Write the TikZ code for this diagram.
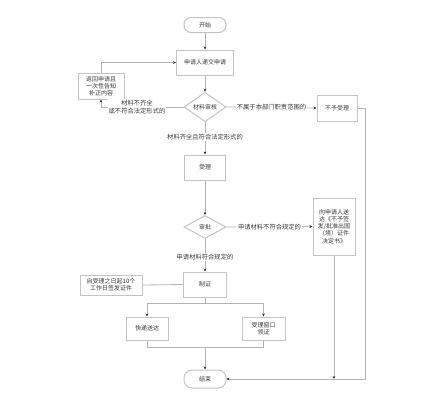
\documentclass[tikz,border=0pt]{standalone}
\usepackage{fontspec}
\newfontfamily\cjk{Noto Sans CJK SC}
\usetikzlibrary{shapes.geometric,arrows.meta,calc}
\definecolor{ln}{HTML}{B4B4B4}
\definecolor{bd}{HTML}{C4C4C4}
\definecolor{tx}{HTML}{3A3A3A}
\begin{document}
\begin{tikzpicture}[x=1pt,y=1pt,
  every node/.style={text=tx, font=\cjk\fontsize{6}{7.2}\selectfont},
  box/.style={draw=bd, line width=1pt, rectangle, inner sep=1pt, align=center},
  term/.style={draw=bd, line width=1pt, rectangle, rounded corners=7pt, inner sep=1pt},
  dia/.style={draw=bd, line width=1pt, diamond, inner sep=0pt},
  lab/.style={fill=white, inner sep=1pt, align=center, font=\cjk\fontsize{6.3}{7.6}\selectfont},
  conn/.style={draw=ln, line width=0.8pt},
  arr/.style={conn, -{Stealth[length=3pt,width=2.6pt,color=black!85]}}
]
\useasboundingbox (0,0) rectangle (421,-400);
\fill[white] (0,0) rectangle (421,-400);

\node[term, minimum width=42pt, minimum height=15pt] (start) at (205,-25) {开始};
\node[box, minimum width=57pt, minimum height=25pt] (submit) at (205,-62.5) {申请人递交申请};
\node[dia, minimum width=42pt, minimum height=21pt] (d1) at (205,-107) {材料审核};
\node[box, minimum width=46pt, minimum height=26pt] (ret) at (101,-86) {返回申请且\\一次性告知\\补正内容};
\node[box, minimum width=40pt, minimum height=26pt] (noacc) at (337,-108) {不予受理};
\node[box, minimum width=41pt, minimum height=25pt] (acc) at (205,-167.5) {受理};
\node[dia, minimum width=42pt, minimum height=23pt] (d2) at (205,-227) {审批};
\node[box, minimum width=42pt, minimum height=57pt] (notice) at (334,-226.5) {向申请人送\\达《不予签\\发/批准出国\\（境）证件\\决定书》};
\node[box, minimum width=43pt, minimum height=25pt] (make) at (205,-284.5) {制证};
\node[box, minimum width=62pt, minimum height=20pt] (note) at (111,-285) {自受理之日起10个\\工作日签发证件};
\node[box, minimum width=42pt, minimum height=23pt] (exp) at (147,-328.5) {快递送达};
\node[box, minimum width=43pt, minimum height=23pt] (win) at (263.5,-328.5) {受理窗口\\领证};
\node[term, minimum width=42pt, minimum height=18pt, rounded corners=8pt] (end) at (205,-379) {结束};

\coordinate (jr) at (365,-108);
\coordinate (split) at (205,-303);
\coordinate (splitL) at (147,-303);
\coordinate (splitR) at (263.5,-303);
\coordinate (mergeL) at (147,-347);
\coordinate (mergeR) at (263.5,-347);
\coordinate (merge) at (205,-347);

\draw[arr] (start) -- (submit);
\draw[arr] (submit) -- (d1);
\draw[arr] (d1.west) -| (ret.south);
\draw[arr] (ret.north) |- (submit.west);
\node[lab] at (137,-107) {材料不齐全\\或不符合法定形式的};
\draw[arr] (d1.east) -- node[lab]{不属于本部门职责范围的} (noacc.west);
\draw[arr] (noacc.east) -- (jr) |- (end.east);
\draw[arr] (d1.south) -- node[lab, pos=0.45]{材料齐全且符合法定形式的} (acc.north);
\draw[arr] (acc) -- (d2);
\draw[arr] (d2.east) -- node[lab]{申请材料不符合规定的} (notice.west);
\draw[arr] (notice.south) -- (notice.south |- end.east);
\draw[arr] (d2.south) -- node[lab, pos=0.55]{申请材料符合规定的} (make.north);
\draw[conn] (note.east) -- (make.west);
\draw[conn] (make.south) -- (split);
\draw[arr] (splitL) -- (exp.north);
\draw[arr] (splitR) -- (win.north);
\draw[conn] (splitL) -- (splitR);
\draw[conn] (exp.south) -- (mergeL) -- (mergeR) -- (win.south);
\draw[arr] (merge) -- (end.north);
\end{tikzpicture}
\end{document}
